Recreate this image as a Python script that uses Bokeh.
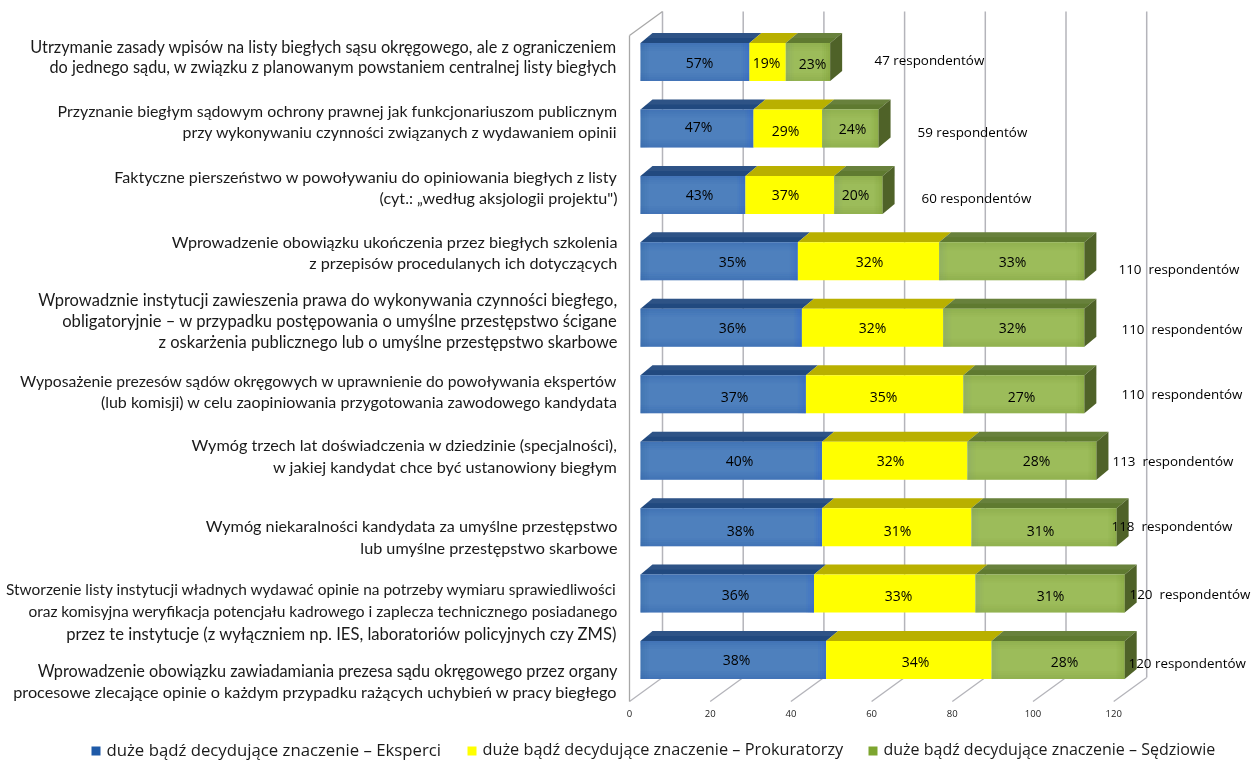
from bokeh.plotting import figure
from bokeh.models import Range1d, ColumnDataSource
from bokeh.core.properties import value
from bokeh.embed import file_html
from bokeh.resources import INLINE

# ---------- data ----------
label_lines = [
    ["Utrzymanie zasady wpisów na listy biegłych sąsu okręgowego, ale z ograniczeniem",
     "do jednego sądu, w związku z planowanym powstaniem centralnej listy biegłych"],
    ["Przyznanie biegłym sądowym ochrony prawnej jak funkcjonariuszom publicznym",
     "przy wykonywaniu czynności związanych z wydawaniem opinii"],
    ["Faktyczne pierszeństwo w powoływaniu do opiniowania biegłych z listy",
     "(cyt.: „według aksjologii projektu\")"],
    ["Wprowadzenie obowiązku ukończenia przez biegłych szkolenia",
     "z przepisów procedulanych ich dotyczących"],
    ["Wprowadznie instytucji zawieszenia prawa do wykonywania czynności biegłego,",
     "obligatoryjnie – w przypadku postępowania o umyślne przestępstwo ścigane",
     "z oskarżenia publicznego lub o umyślne przestępstwo skarbowe"],
    ["Wyposażenie prezesów sądów okręgowych w uprawnienie do powoływania ekspertów",
     "(lub komisji) w celu zaopiniowania przygotowania zawodowego kandydata"],
    ["Wymóg trzech lat doświadczenia w dziedzinie (specjalności),",
     "w jakiej kandydat chce być ustanowiony biegłym"],
    ["Wymóg niekaralności kandydata za umyślne przestępstwo",
     "lub umyślne przestępstwo skarbowe"],
    ["Stworzenie listy instytucji władnych wydawać opinie na potrzeby wymiaru sprawiedliwości",
     "oraz komisyjna weryfikacja potencjału kadrowego i zaplecza technicznego posiadanego",
     "przez te instytucje (z wyłączniem np. IES, laboratoriów policyjnych czy ZMS)"],
    ["Wprowadzenie obowiązku zawiadamiania prezesa sądu okręgowego przez organy",
     "procesowe zlecające opinie o każdym przypadku rażących uchybień w pracy biegłego"],
]
eksperci = [27, 28, 26, 39, 40, 41, 45, 45, 43, 46]
prokuratorzy = [9, 17, 22, 35, 35, 39, 36, 37, 40, 41]
sedziowie = [11, 14, 12, 36, 35, 30, 32, 36, 37, 33]
pct_eksperci = ["57%", "47%", "43%", "35%", "36%", "37%", "40%", "38%", "36%", "38%"]
pct_prokuratorzy = ["19%", "29%", "37%", "32%", "32%", "35%", "32%", "31%", "33%", "34%"]
pct_sedziowie = ["23%", "24%", "20%", "33%", "32%", "27%", "28%", "31%", "31%", "28%"]
respondents = ["47 respondentów", "59 respondentów", "60 respondentów", "110\u00a0 respondentów",
               "110\u00a0 respondentów", "110\u00a0 respondentów", "113\u00a0 respondentów", "118\u00a0 respondentów",
               "120\u00a0 respondentów", "120 respondentów"]
x_ticks = [0, 20, 40, 60, 80, 100, 120]
series_names = ["duże bądź decydujące znaczenie – Eksperci",
                "duże bądź decydujące znaczenie – Prokuratorzy",
                "duże bądź decydujące znaczenie – Sędziowie"]

# ---------- layout (pixels) ----------
W, H = 1257, 760
X0, PX = 629.0, 4.035
Y0, ROW = 61.5, 66.45
def vx(px): return (px - X0) / PX
def ry(py): return (py - Y0) / ROW
LINE_Y = [[46, 66], [110, 131], [176, 197], [241, 262], [299, 320, 341], [380, 401],
          [444, 466], [525, 547], [588, 610, 633], [670, 691]]
LINE_SIZE = [[16.3, 16.3], [15.9, 15.9], [16.1, 16.1], [16.2, 16.2], [16.5, 16.6, 16.5], [15.7, 16.0],
             [16.2, 16.2], [16.2, 16.2], [15.45, 15.5, 16.6], [16.3, 16.25]]
RESP_X = [874, 917, 921, 1118, 1121, 1121, 1112, 1111, 1129, 1128]
RESP_Y = [59, 131, 197, 268, 328, 393, 460, 525, 593, 662]
PCT_X = [[699, 766, 812], [698, 785, 852], [699, 785, 855], [732, 869, 1012], [732, 872, 1012],
         [734, 883, 1021], [739, 890, 1036], [740, 897, 1040], [735, 898, 1050], [736, 915, 1064]]
PCT_DY = [[0, 0, 1], [-2, 2, 0], [0, 0, 0], [0, 0, 0], [0, 0, 0], [2, 2, 2], [0, 0, 0], [3, 3, 3], [1, 2, 2], [-1, 1, 1]]
LEG_BOX_X = [91, 467, 868]
LEG_TEXT_X = [106, 482, 883]
LEG_SIZE = ["16.75px", "16.3px", "16px"]
BAR_OFF = 11 / PX        # bar plane in front of the back wall
DEPTH_X, DEPTH_Y = 12 / PX, 10 / ROW
HALF = 19 / ROW
WALL_X, WALL_Y = 33 / PX, 24 / ROW

p = figure(width=W, height=H,
           x_range=Range1d(vx(0), vx(W)), y_range=Range1d(ry(H), ry(0)),
           output_backend="svg", toolbar_location=None, min_border=0,
           x_axis_type=None, y_axis_type=None, outline_line_color=None)
p.grid.visible = False
p.styles = {"position": "fixed", "left": "0", "top": "0"}

# ---------- walls and grid ----------
GRID = "#b4b4ba"
yf, yb = ry(701), ry(677)
p.segment(x0=[t + WALL_X for t in x_ticks], x1=[t + WALL_X for t in x_ticks],
          y0=[yb] * 7, y1=[ry(11)] * 7, line_color=GRID, line_width=1.5)
p.segment(x0=x_ticks, x1=[t + WALL_X for t in x_ticks], y0=[yf] * 7, y1=[yb] * 7,
          line_color=GRID, line_width=1.3)
p.segment(x0=[0, 0], x1=[0, WALL_X], y0=[yf, ry(35)], y1=[ry(35), ry(11)],
          line_color="#a8a8a8", line_width=1.3)

# ---------- bars ----------
rows = list(range(len(eksperci)))
cum = [[0.0] * 10]
for ser in (eksperci, prokuratorzy, sedziowie):
    cum.append([c + s for c, s in zip(cum[-1], ser)])
BASE = ["#4e80bd", "#ffff00", "#9cbc5a"]
TOP = ["#21497f", "#b9b000", "#5f7a30"]
EDGE = ["#2a5aa8", None, "#7c9c3c"]
RIGHT_EDGE = ["#2f64d2", None, "#7f9f38"]
LEFT_EDGE = ["#2f62a0", None, "#7f9c70"]

for k in range(3):
    L = [c + BAR_OFF for c in cum[k]]
    R = [c + BAR_OFF for c in cum[k + 1]]
    p.patches(xs=[[l, r, r + DEPTH_X, l + DEPTH_X] for l, r in zip(L, R)],
              ys=[[i - HALF, i - HALF, i - HALF - DEPTH_Y, i - HALF - DEPTH_Y] for i in rows],
              fill_color=TOP[k], line_color=None)
    if k != 1:
        p.patches(xs=[[l + DEPTH_X * .5, r + DEPTH_X * .5, r + DEPTH_X, l + DEPTH_X] for l, r in zip(L, R)],
                  ys=[[i - HALF - DEPTH_Y * .5, i - HALF - DEPTH_Y * .5, i - HALF - DEPTH_Y, i - HALF - DEPTH_Y] for i in rows],
                  fill_color="#ffffff", fill_alpha=0.06, line_color=None)
    p.quad(left=L, right=R, top=[i - HALF for i in rows], bottom=[i + HALF for i in rows],
           fill_color=BASE[k], line_color=None)
    if EDGE[k]:
        for step, a in enumerate([.3, .22, .14, .07]):
            w = step * 2.0
            p.quad(left=L, right=R, top=[i - HALF + w / ROW for i in rows],
                   bottom=[i - HALF + (w + 2) / ROW for i in rows],
                   fill_color=EDGE[k], fill_alpha=a, line_color=None)
            p.quad(left=L, right=R, bottom=[i + HALF - w / ROW for i in rows],
                   top=[i + HALF - (w + 2) / ROW for i in rows],
                   fill_color=EDGE[k], fill_alpha=a, line_color=None)
            p.quad(left=[l + w / PX for l in L], right=[l + (w + 2) / PX for l in L],
                   top=[i - HALF for i in rows], bottom=[i + HALF for i in rows],
                   fill_color=LEFT_EDGE[k], fill_alpha=a, line_color=None)
            p.quad(left=[r - (w + 2) / PX for r in R], right=[r - w / PX for r in R],
                   top=[i - HALF for i in rows], bottom=[i + HALF for i in rows],
                   fill_color=RIGHT_EDGE[k], fill_alpha=a * 1.5, line_color=None)

# end face
E = [c + BAR_OFF for c in cum[3]]
p.patches(xs=[[e, e + DEPTH_X, e + DEPTH_X, e] for e in E],
          ys=[[i - HALF, i - HALF - DEPTH_Y, i + HALF - DEPTH_Y, i + HALF] for i in rows],
          fill_color="#4f6228", line_color=None)

# ---------- texts ----------
TXT = "#1a1a1a"
lx, ly, lt, ls = [], [], [], []
for lines, ys, sizes in zip(label_lines, LINE_Y, LINE_SIZE):
    for s, y, z in zip(lines, ys, sizes):
        lx.append(vx(617)); ly.append(ry(y)); lt.append(s); ls.append(f"{z}px")
src = ColumnDataSource(dict(x=lx, y=ly, t=lt, s=ls))
p.text(x="x", y="y", text="t", text_font_size="s", source=src, text_font=value("Lato"),
       text_align="right", text_baseline="middle", text_color=TXT)

px_, py_, pt_ = [], [], []
for i in rows:
    for j, lab in enumerate((pct_eksperci[i], pct_prokuratorzy[i], pct_sedziowie[i])):
        px_.append(vx(PCT_X[i][j])); py_.append(ry(Y0 + ROW * i + PCT_DY[i][j])); pt_.append(lab)
p.text(x=px_, y=py_, text=pt_, text_font=value("Open Sans"), text_font_size="14px",
       text_align="center", text_baseline="middle", text_color="#000000")

p.text(x=[vx(v) for v in RESP_X], y=[ry(v) for v in RESP_Y], text=respondents,
       text_font=value("Open Sans"), text_font_size="13.4px", text_align="left",
       text_baseline="middle", text_color="#000000")

# ---------- tick labels ----------
p.text(x=x_ticks, y=[ry(713)] * 7, text=[str(t) for t in x_ticks], text_font=value("Open Sans"),
       text_font_size="9.5px", text_align="center", text_baseline="middle", text_color="#222222")

# ---------- legend ----------
LEG = ["#1f5aa8", "#ffff00", "#7da52f"]
p.quad(left=[vx(v) for v in LEG_BOX_X], right=[vx(v + 9) for v in LEG_BOX_X],
       top=[ry(746)] * 3, bottom=[ry(755)] * 3, fill_color=LEG, line_color=None)
leg_src = ColumnDataSource(dict(x=[vx(v) for v in LEG_TEXT_X], y=[ry(748.5)] * 3, t=series_names, s=LEG_SIZE))
p.text(x="x", y="y", text="t", text_font_size="s", source=leg_src, text_font=value("Open Sans"),
       text_align="left", text_baseline="middle", text_color=TXT)

open("out.html", "w").write(file_html(p, INLINE))
